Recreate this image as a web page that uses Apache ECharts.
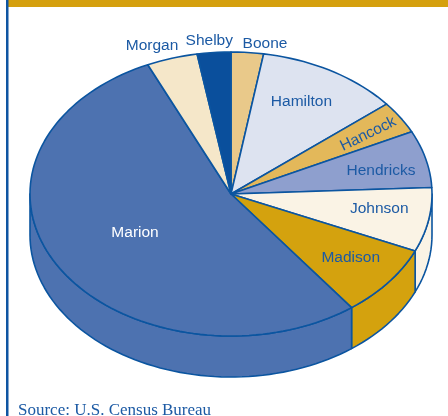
<!DOCTYPE html>
<html lang="en">
<head>
<meta charset="UTF-8">
<title>Indianapolis area population by county</title>
<script src="https://cdn.jsdelivr.net/npm/echarts@6/dist/echarts.min.js"></script>
<style>
    html, body { margin: 0; padding: 0; background: #fff; }
    #main { width: 448px; height: 416px; }
</style>
</head>
<body>
<div id="main"></div>
<script>
    // counties, clockwise from 12 o'clock
    var counties = ['Boone', 'Hamilton', 'Hancock', 'Hendricks', 'Johnson', 'Madison', 'Marion', 'Morgan', 'Shelby'];
    // share of the metro population, percent
    var shares = [2.6, 11.5, 3.7, 6.5, 7.3, 8.2, 53.5, 4.1, 2.7];
    var sourceText = 'Source: U.S. Census Bureau';

    // styles
    var colors = ['#e9c98a', '#dde3f0', '#e3b85a', '#8e9fce', '#faf3e5', '#d4a20e', '#4d72b0', '#f5e7c9', '#0a4f9c'];
    // label placement: [radius factor, dx, dy, rotation deg, colour]
    var labelLayout = [
        [1.1, 16, 5, 0, '#1c5aa4'],
        [0.72, -2, -4, 0, '#1c5aa4'],
        [0.81, 0, 2, 26, '#1c5aa4'],
        [0.77, 0, 4, 0, '#1c5aa4'],
        [0.75, 0, -5, 0, '#1c5aa4'],
        [0.76, 0, -3, 0, '#1c5aa4'],
        [0.555, 0, -1, 0, '#ffffff'],
        [1.1, -14, 1, 0, '#1c5aa4'],
        [1.1, -3, 2, 0, '#1c5aa4']
    ];
    var EDGE = '#0b55a0';
    var CX = 231, CY = 194, RX = 201, RY = 142, DEPTH = 41;

    // start angle of each slice (degrees, clockwise from top)
    var total = shares.reduce(function (a, b) { return a + b; }, 0);
    var starts = [];
    var acc = 0;
    for (var i = 0; i < shares.length; i++) {
        starts.push(acc);
        acc += shares[i] / total * 360;
    }

    function pt(deg, dy) {
        var a = deg * Math.PI / 180;
        return [CX + RX * Math.sin(a), CY - RY * Math.cos(a) + (dy || 0)];
    }
    function arc(a0, a1, dy) {
        var pts = [];
        var n = Math.max(2, Math.ceil((a1 - a0) / 2));
        for (var k = 0; k <= n; k++) {
            pts.push(pt(a0 + (a1 - a0) * k / n, dy));
        }
        return pts;
    }

    var myChart = echarts.init(document.getElementById('main'));

    var option = {
        animation: false,
        title: {
            text: sourceText,
            left: 13,
            top: 397,
            textStyle: {
                fontFamily: 'Liberation Serif',
                fontSize: 17,
                fontWeight: 'normal',
                color: '#1c5aa4'
            }
        },
        graphic: [
            { type: 'rect', left: 8, top: 0, shape: { width: 440, height: 7 }, style: { fill: '#d5a00e' } },
            { type: 'rect', left: 6, top: 0, shape: { width: 2.5, height: 416 }, style: { fill: '#0f55a2' } }
        ],
        series: [{
            type: 'custom',
            coordinateSystem: 'none',
            silent: true,
            data: counties.map(function (c, i) { return { name: c, value: [i, shares[i]] }; }),
            renderItem: function (params, api) {
                var i = params.dataIndex;
                var a0 = starts[i];
                var a1 = a0 + api.value(1) / total * 360;
                var children = [];
                // front wall of the disc
                var s0 = Math.max(a0, 90), s1 = Math.min(a1, 270);
                if (s1 > s0) {
                    children.push({
                        type: 'polygon',
                        shape: { points: arc(s0, s1, 0).concat(arc(s0, s1, DEPTH).reverse()) },
                        style: { fill: colors[i], stroke: EDGE, lineWidth: 1.6, lineJoin: 'round' }
                    });
                }
                // top face
                children.push({
                    type: 'polygon',
                    shape: { points: [[CX, CY]].concat(arc(a0, a1, 0)) },
                    style: { fill: colors[i], stroke: EDGE, lineWidth: 1.6, lineJoin: 'round' }
                });
                // label
                var L = labelLayout[i];
                var mid = (a0 + a1) / 2 * Math.PI / 180;
                children.push({
                    type: 'text',
                    x: CX + RX * L[0] * Math.sin(mid) + L[1],
                    y: CY - RY * L[0] * Math.cos(mid) + L[2],
                    rotation: L[3] * Math.PI / 180,
                    style: {
                        text: counties[i],
                        fill: L[4],
                        font: '15.5px "Liberation Sans", Arial, sans-serif',
                        align: 'center',
                        verticalAlign: 'middle'
                    }
                });
                return { type: 'group', children: children };
            }
        }]
    };

    myChart.setOption(option);
</script>
</body>
</html>
